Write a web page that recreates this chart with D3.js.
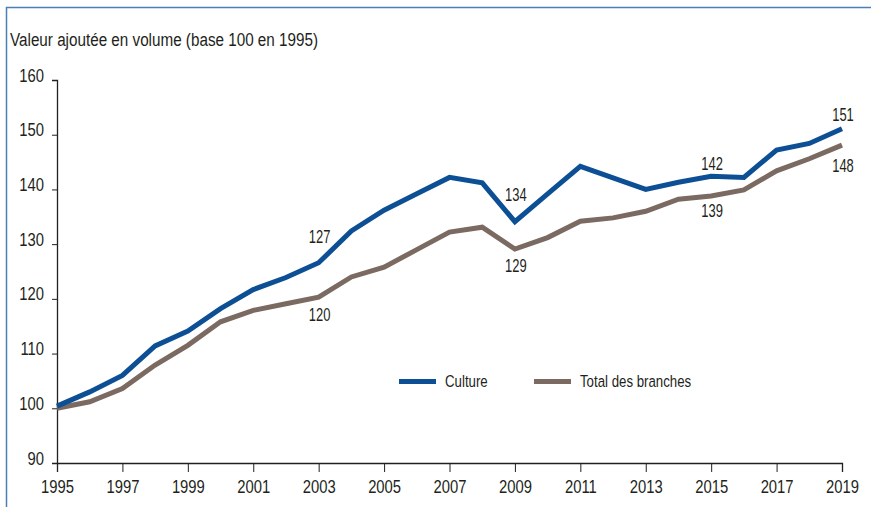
<!DOCTYPE html>
<html>
<head>
<meta charset="utf-8">
<script src="https://cdn.jsdelivr.net/npm/d3@7"></script>
<style>
  html, body { margin: 0; padding: 0; background: #fff; }
  svg { display: block; }
  text { font-family: "Liberation Sans", Arial, sans-serif; fill: #231f20; }
</style>
</head>
<body>
<svg id="chart" width="871" height="507"></svg>
<script>
// Valeur ajoutée en volume, base 100 en 1995
const years = d3.range(1995, 2020);
const culture = [100.4, 103.0, 106.0, 111.4, 114.1, 118.2, 121.7, 123.9, 126.6, 132.4,
                 136.2, 139.2, 142.2, 141.2, 134.1, 139.2, 144.2, 142.1, 140.0, 141.3,
                 142.4, 142.2, 147.2, 148.4, 151.1];
const total = [100.0, 101.2, 103.6, 107.9, 111.5, 115.8, 117.9, 119.1, 120.3, 124.0,
               125.8, 129.0, 132.2, 133.1, 129.1, 131.2, 134.2, 134.8, 136.0, 138.2,
               138.8, 139.9, 143.4, 145.6, 148.1];
const yTicks = [90, 100, 110, 120, 130, 140, 150, 160];
const xTicks = d3.range(1995, 2020, 2);
const seriesNames = ["Culture", "Total des branches"];
const seriesColors = ["#0d4f94", "#7a6a62"];
// Labelled points: series index, year, label
const valueLabels = [
  [0, 2003, "127"], [1, 2003, "120"],
  [0, 2009, "134"], [1, 2009, "129"],
  [0, 2015, "142"], [1, 2015, "139"],
  [0, 2019, "151"], [1, 2019, "148"]
];
// vertical offset of each label's baseline from its point
const labelOffsets = [-20, 24, -21, 23, -6, 21, -8, 27];

// condensed look: horizontal squeeze applied to text
const SQUEEZE = 0.78;

const svg = d3.select("#chart");
const x = d3.scaleLinear().domain([1995, 2019]).range([57, 842]);
const y = d3.scaleLinear().domain([90, 160]).range([463, 80]);

function squeezedText(parent, tx, ty, str, size, anchor, k) {
  return parent.append("text")
    .attr("transform", `translate(${tx},${ty}) scale(${k || SQUEEZE},1)`)
    .attr("text-anchor", anchor || "start")
    .style("font-size", size + "px")
    .text(str);
}

// frame
svg.append("line").attr("x1", 6).attr("x2", 871).attr("y1", 7.5).attr("y2", 7.5)
  .attr("stroke", "#4a80b8").attr("stroke-width", 1.5);
svg.append("line").attr("x1", 6.5).attr("x2", 6.5).attr("y1", 7).attr("y2", 507)
  .attr("stroke", "#4a80b8").attr("stroke-width", 1.5);

// title
svg.append("text").attr("x", 10).attr("y", 46)
  .attr("textLength", 308).attr("lengthAdjust", "spacingAndGlyphs")
  .style("font-size", "18px").text("Valeur ajoutée en volume (base 100 en 1995)");

// y axis
const yAxis = svg.append("g").attr("transform", `translate(${x(1995)},0)`)
  .call(d3.axisLeft(y).tickValues(yTicks).tickSize(5).tickFormat(d3.format("d")));
// x axis
const xAxis = svg.append("g").attr("transform", `translate(0,${y(90)})`)
  .call(d3.axisBottom(x).tickValues(xTicks).tickSize(9).tickFormat(d3.format("d")));
[yAxis, xAxis].forEach(g => {
  g.select(".domain").attr("stroke", "#231f20").attr("stroke-width", 1.3);
  g.selectAll(".tick line").attr("stroke", "#231f20").attr("stroke-width", 1);
  g.selectAll(".tick text").style("font-size", "19px").style("font-family", null)
    .attr("fill", "#231f20").attr("x", null).attr("y", null).attr("dy", null);
});
yAxis.selectAll(".tick text").attr("transform", `translate(-13,1) scale(${SQUEEZE},1)`);
xAxis.selectAll(".tick text").attr("transform", `translate(0,30) scale(${SQUEEZE},1)`);

// lines
const line = d3.line().x((d, i) => x(years[i])).y(d => y(d));
[total, culture].forEach(s => {
  svg.append("path").datum(s).attr("d", line)
    .attr("fill", "none").attr("stroke", seriesColors[s === culture ? 0 : 1])
    .attr("stroke-width", 5);
});

// value labels
const seriesData = [culture, total];
valueLabels.forEach(([k, yr, lab], i) => {
  const v = seriesData[k][years.indexOf(yr)];
  squeezedText(svg, x(yr) + 1, y(v) + labelOffsets[i], lab, 18, "middle", 0.72);
});

// legend
const legendX = [399, 534];
seriesNames.forEach((n, k) => {
  svg.append("line").attr("x1", legendX[k]).attr("x2", legendX[k] + 37)
    .attr("y1", 381.5).attr("y2", 381.5)
    .attr("stroke", seriesColors[k]).attr("stroke-width", 5);
  squeezedText(svg, legendX[k] + 46, 387, n, 17, "start", 0.78);
});
</script>
</body>
</html>
